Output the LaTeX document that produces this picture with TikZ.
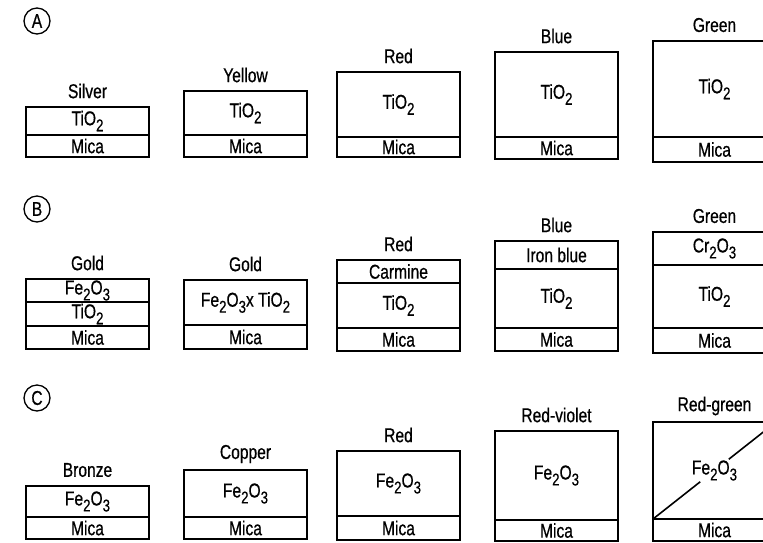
\documentclass[tikz,border=0pt]{standalone}
\usepackage{fontspec}
\setmainfont{Liberation Sans}[FakeStretch=0.78,FakeBold=0.6]
\newcommand{\lowsub}[1]{\raisebox{-.3em}{\fontsize{17}{17}\selectfont #1}}
\begin{document}
\begin{tikzpicture}[x=1pt,y=-1pt,font=\fontsize{20}{22}\selectfont,layer/.style={line width=1.6pt},coat/.style={inner sep=1pt},hue/.style={inner sep=0pt},tag/.style={draw,circle,line width=1.3pt,minimum size=26pt,inner sep=0pt}]
\clip (0,0) rectangle (763,542);
\newcommand{\flake}[8]{\draw[layer] (#2,#3) rectangle (#2+123,#6);\draw[layer] (#2,#5)--(#2+123,#5);\node[hue] (#1hue) at (#2+61.5,#3-16) {#7};\node[coat] (#1coat) at (#2+61.5,{(#4+#5)/2}) {#8};\node[coat] (#1mica) at (#2+61.5,{(#5+#6)/2}) {Mica};}
% row A: TiO2 on mica
\node[tag] (rowA) at (37,21) {A};
\flake{a1}{26}{107}{107}{135}{157}{Silver}{TiO\lowsub{2}}
\flake{a2}{184}{91}{91}{135}{157}{Yellow}{TiO\lowsub{2}}
\flake{a3}{337}{72}{72}{137}{157}{Red}{TiO\lowsub{2}}
\flake{a4}{495}{52}{52}{137}{159}{Blue}{TiO\lowsub{2}}
\flake{a5}{653}{41}{41}{137}{162}{Green}{TiO\lowsub{2}}
% row B: extra top layers
\node[tag] (rowB) at (37,209) {B};
\flake{b1}{26}{279}{302}{326}{349}{Gold}{TiO\lowsub{2}}\draw[layer] (26,302)--(149,302);\node[coat] (b1top) at (87.5,290.5) {Fe\lowsub{2}O\lowsub{3}};
\flake{b2}{184}{280}{280}{325}{349}{Gold}{Fe\lowsub{2}O\lowsub{3}x TiO\lowsub{2}}
\flake{b3}{337}{260}{283}{328}{351}{Red}{TiO\lowsub{2}}\draw[layer] (337,283)--(460,283);\node[coat] (b3top) at (398.5,271.5) {Carmine};
\flake{b4}{495}{241}{269}{328}{351}{Blue}{TiO\lowsub{2}}\draw[layer] (495,269)--(618,269);\node[coat] (b4top) at (556.5,255) {Iron blue};
\flake{b5}{653}{232}{265}{328}{353}{Green}{TiO\lowsub{2}}\draw[layer] (653,265)--(776,265);\node[coat] (b5top) at (714.5,248.5) {Cr\lowsub{2}O\lowsub{3}};
% row C: Fe2O3 on mica
\node[tag] (rowC) at (37,398) {C};
\flake{c1}{26}{486}{486}{517}{539}{Bronze}{Fe\lowsub{2}O\lowsub{3}}
\flake{c2}{184}{470}{470}{517}{539}{Copper}{Fe\lowsub{2}O\lowsub{3}}
\flake{c3}{337}{451}{451}{516}{540}{Red}{Fe\lowsub{2}O\lowsub{3}}
\flake{c4}{495}{431}{431}{520}{541}{Red-violet}{Fe\lowsub{2}O\lowsub{3}}
\flake{c5}{653}{422}{422}{519}{541}{Red-green}{Fe\lowsub{2}O\lowsub{3}}
\coordinate (c5lo) at (653,519);\coordinate (c5hi) at (776,422);
\draw[layer] (c5lo)--(c5coat);\draw[layer] (c5coat)--(c5hi);
\end{tikzpicture}
\end{document}
